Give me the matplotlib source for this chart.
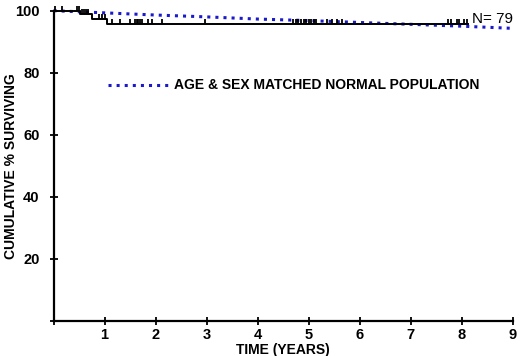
import matplotlib.pyplot as plt

plt.rcParams['font.family'] = ['Liberation Sans', 'DejaVu Sans']

# Kaplan-Meier step curve (time in years, % surviving)
km_time = [0.0, 0.52, 0.75, 1.04, 8.13]
km_surv = [100.0, 98.8, 97.2, 95.7, 95.7]

# censored observations (time, level)
cens_time = [0.03, 0.16, 0.45, 0.50, 0.56, 0.60, 0.64, 0.68,
             0.90, 0.95, 1.00, 1.14, 1.30, 1.50, 1.60, 1.63, 1.66,
             1.70, 1.73, 1.85, 1.93, 2.13, 2.97,
             4.70, 4.75, 4.80, 4.85, 4.90, 4.95, 5.00, 5.05, 5.10, 5.15,
             5.36, 5.45, 5.55, 5.65, 7.74, 7.80, 7.90, 7.95, 8.05, 8.10]
cens_surv = [100.0, 100.0, 100.0, 100.0, 98.8, 98.8, 98.8, 98.8,
             97.2, 97.2, 97.2, 95.7, 95.7, 95.7, 95.7, 95.7, 95.7,
             95.7, 95.7, 95.7, 95.7, 95.7, 95.7,
             95.7, 95.7, 95.7, 95.7, 95.7, 95.7, 95.7, 95.7, 95.7, 95.7,
             95.7, 95.7, 95.7, 95.7, 95.7, 95.7, 95.7, 95.7, 95.7, 95.7]

# age & sex matched normal population
norm_time = [0, 1, 2, 3, 4, 5, 6, 7, 8, 9]
norm_surv = [100.0, 99.3, 98.6, 98.0, 97.3, 96.8, 96.2, 95.6, 95.0, 94.3]

fig = plt.figure(figsize=(5.2, 3.56), dpi=100)
ax = fig.add_axes([0.103, 0.099, 0.883, 0.871])

ax.step(km_time, km_surv, where='post', color='black', lw=1.4, clip_on=False, zorder=3)
# censor marks point upward from the curve
ax.vlines(cens_time, cens_surv, [s + 1.6 for s in cens_surv], color='black',
          lw=1.3, clip_on=False, zorder=3)
ax.plot(norm_time, norm_surv, color='#1a1acc', ls=':', lw=2.2, clip_on=False, zorder=2)

# legend drawn by hand
ax.plot([1.07, 2.24], [76, 76], color='#1a1acc', ls=':', lw=2.2)
ax.text(2.37, 76, 'AGE & SEX MATCHED NORMAL POPULATION', fontsize=10,
        fontweight='bold', va='center', ha='left')
ax.text(9.0, 97.3, 'N= 79', fontsize=11, ha='right', va='center')

ax.set_xlim(0, 9)
ax.set_ylim(0, 100)
ax.set_xticks(range(0, 10))
ax.set_xticklabels([''] + [str(i) for i in range(1, 10)])
ax.set_yticks([0, 20, 40, 60, 80, 100])
ax.set_yticklabels(['', '20', '40', '60', '80', '100'])
ax.tick_params(direction='inout', length=6, width=1.3, labelsize=10.5)
ax.tick_params(axis='x', pad=2)
ax.tick_params(axis='y', pad=7)
for lab in ax.get_xticklabels() + ax.get_yticklabels():
    lab.set_fontweight('bold')

for s in ['top', 'right']:
    ax.spines[s].set_visible(False)
for s in ['left', 'bottom']:
    ax.spines[s].set_linewidth(1.6)

ax.set_xlabel('TIME (YEARS)', fontsize=10, fontweight='bold', labelpad=1)
ax.set_ylabel('CUMULATIVE % SURVIVING', fontsize=10, fontweight='bold',
              va='center')
ax.yaxis.set_label_coords(-0.092, 0.5)

fig.savefig('out.png', dpi=100)
